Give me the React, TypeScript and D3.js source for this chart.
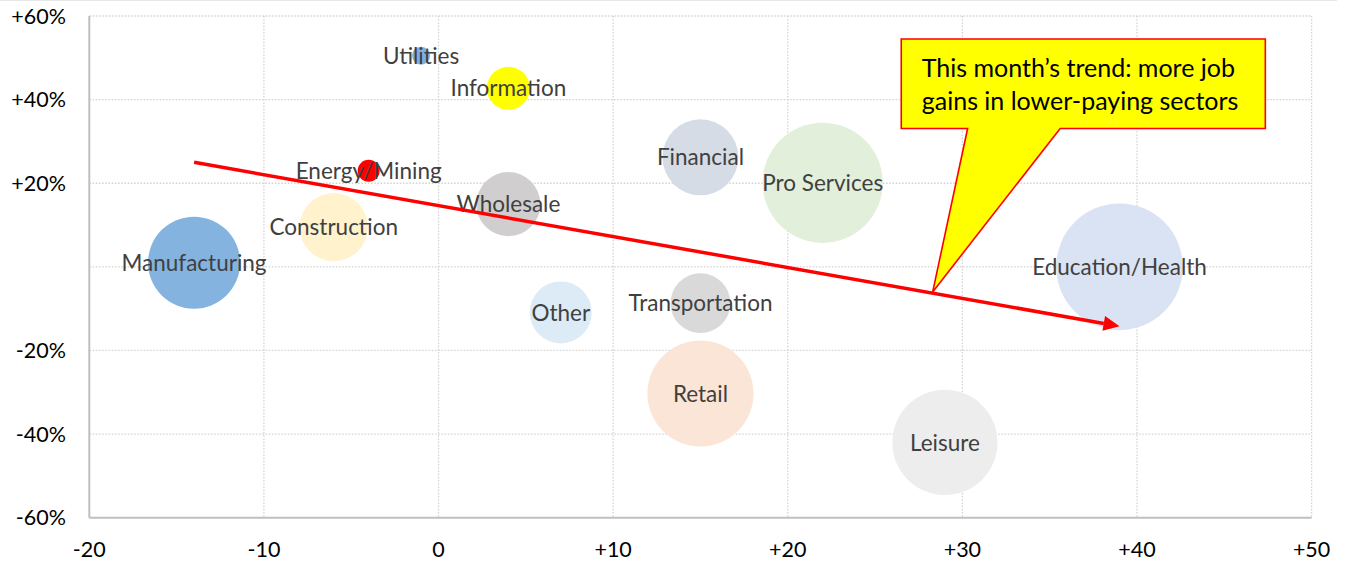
import React from "react";
import * as d3 from "d3";

// ---- data ----
const sectors = [
  "Manufacturing", "Construction", "Energy/Mining", "Utilities", "Information",
  "Wholesale", "Financial", "Pro Services", "Other", "Transportation",
  "Retail", "Leisure", "Education/Health",
];
// relative pay (x axis)
const payGap = [-14, -6, -4, -1, 4, 4, 15, 22, 7, 15, 15, 29, 39];
// job change (%), y axis
const jobChange = [1, 9.5, 23, 50.5, 42.7, 15, 26.2, 20.1, -10.9, -8.7, -30.3, -42, 0];
// employment (bubble size)
const employment = [12.8, 7.0, 0.73, 0.49, 2.8, 6.2, 8.7, 21.8, 5.8, 5.4, 17.0, 16.7, 24.2];
const bubbleColors = [
  "#84B3DF", "#FFF2CC", "#FF0000", "#7FB0DF", "#FFFF00",
  "#D0CECE", "#D6DCE5", "#E2EFDA", "#DDEBF7", "#D9D9D9",
  "#FBE5D6", "#EDEDED", "#DAE3F3",
];

const xTicks = [-20, -10, 0, 10, 20, 30, 40, 50];
const yTicks = [-60, -40, -20, 0, 20, 40, 60];
const yTickLabels = ["-60%", "-40%", "-20%", "", "+20%", "+40%", "+60%"];

// trend arrow (data units)
const arrowFrom = [-14, 25];
const arrowTo = [39, -14.2];

// callout (data units)
const calloutBoxX = [26.5, 47.35];
const calloutBoxY = [54.5, 33.1];
const calloutBaseX = [30.3, 35.6];
const calloutTip = [28.3, -6];
const calloutLines = ["This month\u2019s trend: more job", "gains in lower-paying sectors"];

const W = 1348;
const H = 563;
const FONT = "Lato, 'Open Sans', sans-serif";

export default function App() {
  const x = d3.scaleLinear().domain([-20, 50]).range([89.3, 1311.6]);
  const y = d3.scaleLinear().domain([-60, 60]).range([517.7, 16]);
  const r = d3.scaleSqrt().domain([0, 24.2]).range([0, 63.3]);

  const fmtX = (v: number) => (v > 0 ? "+" + v : String(v));

  // arrow geometry
  const x1 = x(arrowFrom[0]), y1 = y(arrowFrom[1]);
  const x2 = x(arrowTo[0]), y2 = y(arrowTo[1]);
  const len = Math.hypot(x2 - x1, y2 - y1);
  const ux = (x2 - x1) / len, uy = (y2 - y1) / len;
  const headL = 16, headW = 7.5;
  const bx = x2 - ux * headL, by = y2 - uy * headL;
  const head = [
    [x2, y2],
    [bx - uy * headW, by + ux * headW],
    [bx + uy * headW, by - ux * headW],
  ];

  const calloutPath = d3.path();
  calloutPath.moveTo(x(calloutBoxX[0]), y(calloutBoxY[0]));
  calloutPath.lineTo(x(calloutBoxX[1]), y(calloutBoxY[0]));
  calloutPath.lineTo(x(calloutBoxX[1]), y(calloutBoxY[1]));
  calloutPath.lineTo(x(calloutBaseX[1]), y(calloutBoxY[1]));
  calloutPath.lineTo(x(calloutTip[0]), y(calloutTip[1]));
  calloutPath.lineTo(x(calloutBaseX[0]), y(calloutBoxY[1]));
  calloutPath.lineTo(x(calloutBoxX[0]), y(calloutBoxY[1]));
  calloutPath.closePath();

  const idx = d3.range(sectors.length);

  return (
    <div style={{ position: "absolute", left: 0, top: 0 }}>
      <svg width={W} height={H} style={{ display: "block", background: "#fff" }} fontFamily={FONT}>
        <line x1={0} x2={1337} y1={0.5} y2={0.5} stroke="#E8E8E8" strokeWidth={1} />
        {/* gridlines */}
        {xTicks.filter((t) => t !== -20).map((t) => (
          <line key={"gx" + t} x1={x(t)} x2={x(t)} y1={y(60)} y2={y(-60)}
            stroke="#D4D4D4" strokeWidth={1.3} strokeDasharray="1.6 1.6" />
        ))}
        {yTicks.filter((t) => t !== -60).map((t) => (
          <line key={"gy" + t} x1={x(-20)} x2={x(50)} y1={y(t)} y2={y(t)}
            stroke="#D4D4D4" strokeWidth={1.3} strokeDasharray="1.6 1.6" />
        ))}
        {/* axes */}
        <line x1={x(-20)} x2={x(-20)} y1={y(60)} y2={y(-60)} stroke="#BFBFBF" strokeWidth={2} />
        <line x1={x(-20)} x2={x(50)} y1={y(-60)} y2={y(-60)} stroke="#BFBFBF" strokeWidth={2} />
        {/* tick labels */}
        {yTicks.map((t, i) => (
          <text key={"yl" + t} x={66} y={y(t)} dy="0.36em" textAnchor="end" fontSize={21.5} fill="#000">
            {yTickLabels[i]}
          </text>
        ))}
        {xTicks.map((t) => (
          <text key={"xl" + t} x={x(t)} y={557} textAnchor="middle" fontSize={21.5} fill="#000">
            {fmtX(t)}
          </text>
        ))}
        {/* bubbles */}
        {idx.map((i) => (
          <circle key={"b" + i} cx={x(payGap[i])} cy={y(jobChange[i])} r={r(employment[i])} fill={bubbleColors[i]} />
        ))}
        {/* labels */}
        {idx.map((i) => (
          <text key={"t" + i} x={x(payGap[i])} y={y(jobChange[i])} dy="0.36em" textAnchor="middle"
            fontSize={22.5} fill="#404040">
            {sectors[i]}
          </text>
        ))}
        {/* trend arrow */}
        <line x1={x1} y1={y1} x2={bx} y2={by} stroke="#FF0000" strokeWidth={3.5} />
        <polygon points={head.map((p) => p.join(",")).join(" ")} fill="#FF0000" />
        {/* callout */}
        <path d={calloutPath.toString()} fill="#FFFF00" stroke="#FF0000" strokeWidth={1.6} strokeLinejoin="miter" />
        {calloutLines.map((l, i) => (
          <text key={"c" + i} x={x(calloutBoxX[0]) + 20.5} y={77 + i * 33} fontSize={25} fill="#000">
            {l}
          </text>
        ))}
      </svg>
    </div>
  );
}
